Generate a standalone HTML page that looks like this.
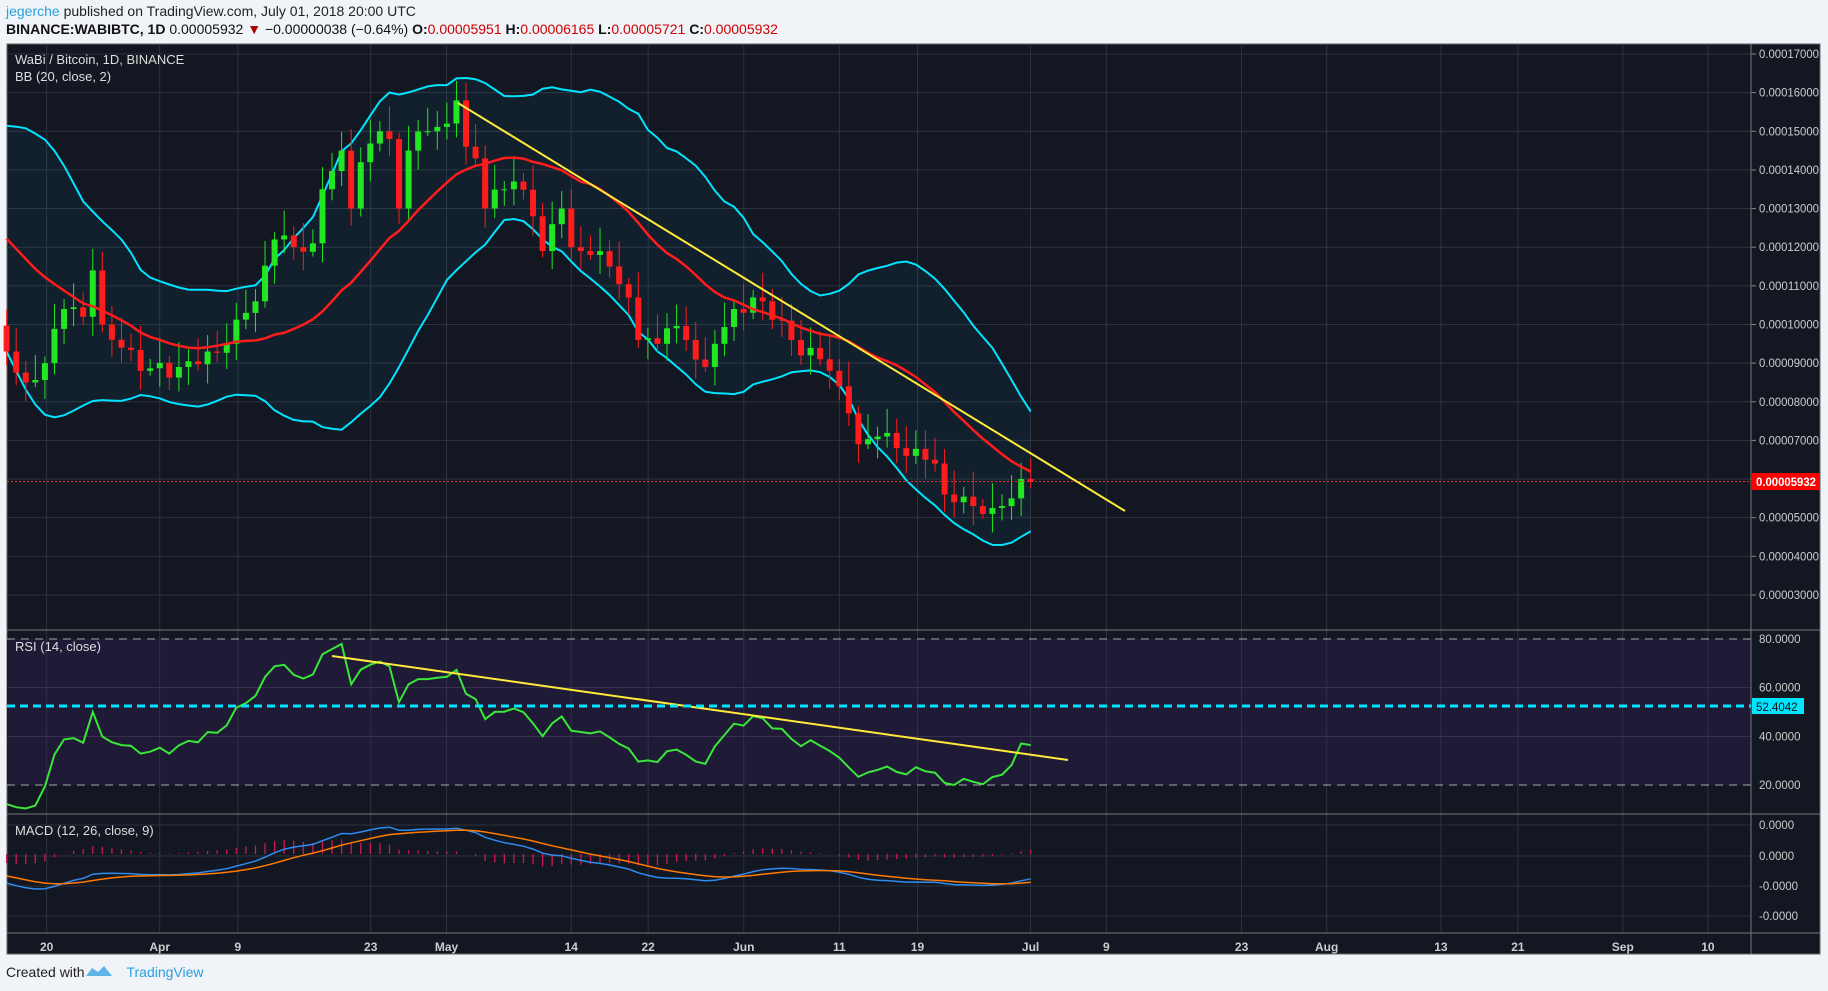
<!DOCTYPE html><html><head><meta charset="utf-8"><style>
body{margin:0;width:1828px;height:991px;background:#f0f3f7;font-family:"Liberation Sans",sans-serif;overflow:hidden;position:relative}
.h1{position:absolute;left:6px;top:3px;font-size:14px;color:#222}
.h2{position:absolute;left:6px;top:21px;font-size:14px;color:#111}
.r{color:#c00}
svg{position:absolute;left:0;top:0}
.ft{position:absolute;left:6px;top:964px;font-size:14px;color:#222}
</style></head><body>
<div class="h1"><span style="color:#2aa0dc">jegerche</span> published on TradingView.com, July 01, 2018 20:00 UTC</div>
<div class="h2"><b>BINANCE:WABIBTC, 1D</b> 0.00005932 <span style="color:#a00">▼</span> −0.00000038 (−0.64%) <b>O:</b><span class="r">0.00005951</span> <b>H:</b><span class="r">0.00006165</span> <b>L:</b><span class="r">0.00005721</span> <b>C:</b><span class="r">0.00005932</span></div>
<div class="ft">Created with <span style="color:#2aa0dc;margin-left:38px">TradingView</span></div>
<svg id="s" width="1828" height="991" xmlns="http://www.w3.org/2000/svg"></svg>
<script>
const S=document.getElementById('s');let h='';
const L=7,R=1751,T=44,B=954;
h+=`<rect x="${L}" y="${T}" width="${1820-L}" height="${B-T}" fill="#131722" stroke="#666"/>`;
h+=`<rect x="${L}" y="639" width="${R-L}" height="146" fill="#1f1a36"/>`;
const px=d=>44.9+d*9.571, py=p=>54+(17-p)*38.64, ry=r=>639+(80-r)*2.433;
const xl=[[40,'20'],[137,'Apr'],[204,'9'],[318,'23'],[383,'May'],[490,'14'],[556,'22'],[638,'Jun'],[720,'11'],[787,'19'],[884,'Jul'],[949,'9'],[1065,'23'],[1138,'Aug'],[1236,'13'],[1302,'21'],[1392,'Sep'],[1465,'10']];
xl.forEach(([x,t])=>{x=x*1.1658;h+=`<line x1="${x}" y1="${T}" x2="${x}" y2="933" stroke="#2e3240"/><text x="${x}" y="951" fill="#ccc" font-size="12" font-weight="bold" text-anchor="middle">${t}</text>`});
const lf='font-size="11.5" textLength="60" lengthAdjust="spacingAndGlyphs"';
for(let p=3;p<=17;p++){const y=py(p);h+=`<line x1="${L}" y1="${y}" x2="${R}" y2="${y}" stroke="#2e3240"/><line x1="${R}" y1="${y}" x2="${R+5}" y2="${y}" stroke="#888"/><text x="${R+8}" y="${y+4}" fill="#ccc" ${lf}>0.000${p<10?'0':''}${p}000</text>`}
[[80,'80.0000'],[60,'60.0000'],[40,'40.0000'],[20,'20.0000']].forEach(([r,t])=>{const y=ry(r);h+=`<line x1="${L}" y1="${y}" x2="${R}" y2="${y}" stroke="${r==80||r==20?'#aaa':'#3a3350'}" ${r==80||r==20?'stroke-dasharray="8 6"':''}/><text x="${R+8}" y="${y+4}" fill="#ccc" font-size="11.5">${t}</text>`});
[[825,'0.0000'],[856,'0.0000'],[886,'-0.0000'],[916,'-0.0000']].forEach(([y,t])=>{h+=`<line x1="${L}" y1="${y}" x2="${R}" y2="${y}" stroke="#2e3240"/><text x="${R+8}" y="${y+4}" fill="#ccc" font-size="11.5">${t}</text>`});
[630,814,933].forEach(y=>h+=`<line x1="${L}" y1="${y}" x2="1820" y2="${y}" stroke="#777"/>`);
h+=`<line x1="${R}" y1="${T}" x2="${R}" y2="${B}" stroke="#777"/>`;
const K=[[-24,14.5],[-20,13.2],[-17,13.8],[-13,12],[-10,12.3],[-8,10.5],[-6,10.2],[-4,9.3],[-2,8.5],[0,9.0],[2,10.4],[4,10.2],[5,11.4],[6,10.0],[8,9.4],[10,8.8],[14,8.9],[17,9.3],[19,9.5],[21,10.3],[22,10.6],[24,12.2],[26,12.0],[28,12.1],[29,13.5],[31,14.5],[32,13.0],[33,14.2],[35,15.0],[36,14.8],[37,13.0],[38,14.5],[40,15.0],[42,15.2],[43,15.8],[44,14.6],[45,14.3],[46,13.0],[48,13.5],[49,13.7],[51,12.8],[52,11.9],[54,13.0],[55,12.0],[57,11.8],[59,11.5],[61,10.7],[62,9.6],[64,9.5],[65,9.9],[67,9.6],[69,8.9],[70,9.5],[72,10.4],[74,10.7],[75,10.6],[77,10.1],[78,9.6],[79,9.2],[81,9.1],[82,8.8],[83,8.4],[84,7.7],[85,6.9],[87,7.1],[89,6.8],[90,6.6],[92,6.5],[93,6.4],[94,5.6],[95,5.4],[97,5.3],[99,5.25],[100,5.3],[101,5.5],[102,6.0],[103,5.93]];
const D=[],C=[];let k=0;
for(let d=-24;d<=103;d++){while(K[k+1]&&K[k+1][0]<=d)k++;let c;if(K[k][0]==d)c=K[k][1];else{const a=K[k],b=K[k+1];c=a[1]+(b[1]-a[1])*(d-a[0])/(b[0]-a[0])+Math.sin(d*2.3)*0.25}D.push(d);C.push(c)}
const n=C.length;
const up=[],mid=[],lo=[];
for(let i=0;i<n;i++){if(i<19){up.push(null);mid.push(null);lo.push(null);continue}let s=0,q=0;for(let j=i-19;j<=i;j++){s+=C[j];q+=C[j]*C[j]}const m=s/20,sd=Math.sqrt(q/20-m*m);mid.push(m);up.push(m+2*sd);lo.push(m-2*sd)}
const pl=(arr,f,yf)=>{let p='';for(let i=0;i<n;i++){if(arr[i]==null||D[i]<-4)continue;p+=(p?'L':'M')+px(D[i]).toFixed(1)+' '+yf(arr[i]).toFixed(1)}return p};
let fillp=pl(up,0,py);for(let i=n-1;i>=0;i--){if(lo[i]==null||D[i]<-4)continue;fillp+='L'+px(D[i]).toFixed(1)+' '+py(lo[i]).toFixed(1)}
h+=`<path d="${fillp}Z" fill="rgba(0,200,230,0.05)"/>`;
h+=`<path d="${pl(up,0,py)}" stroke="#00e5ff" stroke-width="2" fill="none"/><path d="${pl(lo,0,py)}" stroke="#00e5ff" stroke-width="2" fill="none"/>`;
for(let i=1;i<n;i++){if(D[i]<-4)continue;const o=C[i-1],c=C[i],x=px(D[i]);const hi=Math.max(o,c)+0.15+Math.abs(Math.sin(i*1.7))*0.5,lw=Math.min(o,c)-0.1-Math.abs(Math.cos(i*1.3))*0.4;const col=c>=o?'#22e622':'#ff1c1c';const y1=py(Math.max(o,c)),y2=py(Math.min(o,c));
h+=`<line x1="${x}" y1="${py(hi)}" x2="${x}" y2="${py(lw)}" stroke="${col}"/><rect x="${x-3}" y="${y1}" width="6" height="${Math.max(1,y2-y1)}" fill="${col}"/>`}
h+=`<path d="${pl(mid,0,py)}" stroke="#ff1c1c" stroke-width="2.5" fill="none"/>`;
h+=`<line x1="${L}" y1="481.5" x2="${R}" y2="481.5" stroke="#e03030" stroke-dasharray="2 2"/>`;
h+=`<rect x="${R+1}" y="473" width="68" height="17" fill="#ff0000"/><text x="${R+5}" y="486" fill="#fff" font-size="11.5" font-weight="bold" textLength="60" lengthAdjust="spacingAndGlyphs">0.00005932</text>`;
h+=`<line x1="458" y1="103" x2="1125" y2="511" stroke="#ffeb3b" stroke-width="2"/>`;
const rsi=[];let ag=0,al=0;for(let i=1;i<n;i++){const ch=C[i]-C[i-1],g=Math.max(ch,0),l=Math.max(-ch,0);if(i<=14){ag+=g/14;al+=l/14;rsi.push(null)}else{ag=(ag*13+g)/14;al=(al*13+l)/14;rsi.push(100-100/(1+ag/(al||1e-9)))}}rsi.unshift(null);
h+=`<path d="${pl(rsi,0,ry)}" stroke="#39e639" stroke-width="2" fill="none"/>`;
h+=`<line x1="332" y1="656" x2="1068" y2="760" stroke="#ffeb3b" stroke-width="2"/>`;
h+=`<line x1="${L}" y1="706" x2="${R}" y2="706" stroke="#00e5ff" stroke-width="3" stroke-dasharray="8 5"/>`;
h+=`<rect x="${R+1}" y="698" width="52" height="16" fill="#00e5ff"/><text x="${R+5}" y="711" fill="#111" font-size="11.5">52.4042</text>`;
const ema=(a,p)=>{const k=2/(p+1);let e=a[0];return a.map(v=>e=v*k+e*(1-k))};
const e12=ema(C,12),e26=ema(C,26),mc=e12.map((v,i)=>v-e26[i]),sg=ema(mc,9);
let mx=0;for(let i=0;i<n;i++)if(D[i]>=-4)mx=Math.max(mx,Math.abs(mc[i]));const sc=60/mx,my=v=>856-v*sc*0.55;
for(let i=0;i<n;i++){if(D[i]<-4)continue;const hv=mc[i]-sg[i];h+=`<line x1="${px(D[i])}" y1="854" x2="${px(D[i])}" y2="${854-hv*sc*0.7}" stroke="#d01850" stroke-width="1.3"/>`}
h+=`<path d="${pl(mc,0,my)}" stroke="#2d8cf0" stroke-width="1.5" fill="none"/><path d="${pl(sg,0,my)}" stroke="#ff7a00" stroke-width="1.5" fill="none"/>`;
h+=`<text x="15" y="64" fill="#ddd" font-size="13">WaBi / Bitcoin, 1D, BINANCE</text><text x="15" y="81" fill="#ddd" font-size="13">BB (20, close, 2)</text>`;
h+=`<text x="15" y="651" fill="#ddd" font-size="13">RSI (14, close)</text><text x="15" y="835" fill="#ddd" font-size="13">MACD (12, 26, close, 9)</text>`;
h+=`<path d="M86 976 l6 -8 l6 4 l6 -6 l8 10 z" fill="#5fb4e6"/>`;
S.innerHTML=h;
</script></body></html>
